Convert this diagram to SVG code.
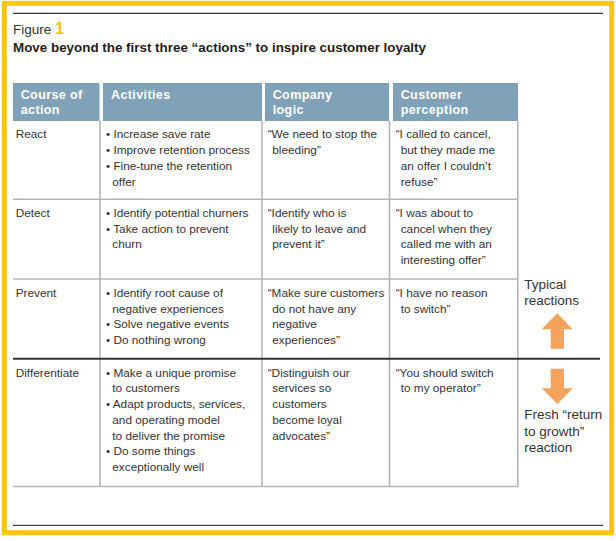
<svg xmlns="http://www.w3.org/2000/svg" width="616" height="541" viewBox="0 0 616 541">
<style>
.t{font-family:"Liberation Sans",Arial,sans-serif;font-size:11.8px;fill:#333;}
.h{font-family:"Liberation Sans",Arial,sans-serif;font-size:12.5px;font-weight:bold;fill:#fff;letter-spacing:0.4px;}
.s{font-family:"Liberation Sans",Arial,sans-serif;font-size:13.5px;fill:#333;}
.hd{fill:#7fa2b9;}
.g{stroke:#b5b5b5;stroke-width:1.6;fill:none;}
.d{stroke:#333;stroke-width:2;fill:none;}
.ar{fill:#f5a35c;}
</style>
<rect x="0" y="0" width="616" height="541" fill="#fff"/>
<rect x="4.3" y="3.3" width="607.4" height="529.4" fill="none" stroke="#fec40f" stroke-width="5"/>
<line x1="13" y1="13.3" x2="603" y2="13.3" stroke="#333" stroke-width="1.3"/>
<line x1="13" y1="525.3" x2="603" y2="525.3" stroke="#444" stroke-width="1.3"/>
<g id="title">
<text x="13" y="34.3" font-family="'Liberation Sans',Arial,sans-serif" font-size="13.5" fill="#333">Figure <tspan fill="#fdbf12" font-weight="bold" font-size="16">1</tspan></text>
<text x="13" y="51.7" font-family="'Liberation Sans',Arial,sans-serif" font-size="13" font-weight="bold" fill="#1e1e1e" textLength="413" lengthAdjust="spacingAndGlyphs">Move beyond the first three “actions” to inspire customer loyalty</text>
</g>
<g id="header">
<rect class="hd" x="13" y="83" width="86.5" height="38"/>
<rect class="hd" x="103" y="83" width="159" height="38"/>
<rect class="hd" x="265" y="83" width="124" height="38"/>
<rect class="hd" x="393" y="83" width="125" height="38"/>
<text class="h" x="20.7" y="99">Course of</text>
<text class="h" x="20.7" y="113.5">action</text>
<text class="h" x="111" y="99">Activities</text>
<text class="h" x="272.7" y="99">Company</text>
<text class="h" x="272.7" y="113.5">logic</text>
<text class="h" x="400.7" y="99">Customer</text>
<text class="h" x="400.7" y="113.5">perception</text>
</g>
<g id="connectors">
<line class="g" x1="100" y1="121" x2="100" y2="487"/>
<line class="g" x1="262" y1="121" x2="262" y2="487"/>
<line class="g" x1="389.5" y1="121" x2="389.5" y2="487"/>
<line class="g" x1="517.8" y1="121" x2="517.8" y2="487"/>
<line class="g" x1="13" y1="199.3" x2="518" y2="199.3"/>
<line class="g" x1="13" y1="279" x2="518" y2="279"/>
<line class="g" x1="13" y1="486.5" x2="518" y2="486.5"/>
<line class="d" x1="13" y1="358.7" x2="600" y2="358.7"/>
</g>
<g id="row-react">
<text class="t" x="15.7" y="138.3">React</text>
<text class="t" x="106" y="138.3">• Increase save rate</text>
<text class="t" x="106" y="154.1">• Improve retention process</text>
<text class="t" x="106" y="169.9">• Fine-tune the retention</text>
<text class="t" x="112.3" y="185.7">offer</text>
<text class="t" x="267.7" y="138.3">“We need to stop the</text>
<text class="t" x="272.3" y="154.1">bleeding”</text>
<text class="t" x="395.7" y="138.3">“I called to cancel,</text>
<text class="t" x="400.7" y="154.1">but they made me</text>
<text class="t" x="400.7" y="169.9">an offer I couldn’t</text>
<text class="t" x="400.7" y="185.7">refuse”</text>
</g>
<g id="row-detect">
<text class="t" x="15.7" y="216.7">Detect</text>
<text class="t" x="106" y="216.7">• Identify potential churners</text>
<text class="t" x="106" y="232.5">• Take action to prevent</text>
<text class="t" x="112.3" y="248.3">churn</text>
<text class="t" x="267.7" y="216.7">“Identify who is</text>
<text class="t" x="272.3" y="232.5">likely to leave and</text>
<text class="t" x="272.3" y="248.3">prevent it”</text>
<text class="t" x="395.7" y="216.7">“I was about to</text>
<text class="t" x="400.7" y="232.5">cancel when they</text>
<text class="t" x="400.7" y="248.3">called me with an</text>
<text class="t" x="400.7" y="264.1">interesting offer”</text>
</g>
<g id="row-prevent">
<text class="t" x="15.7" y="296.7">Prevent</text>
<text class="t" x="106" y="296.7">• Identify root cause of</text>
<text class="t" x="112.3" y="312.5">negative experiences</text>
<text class="t" x="106" y="328.3">• Solve negative events</text>
<text class="t" x="106" y="344.1">• Do nothing wrong</text>
<text class="t" x="267.7" y="296.7">“Make sure customers</text>
<text class="t" x="272.3" y="312.5">do not have any</text>
<text class="t" x="272.3" y="328.3">negative</text>
<text class="t" x="272.3" y="344.1">experiences”</text>
<text class="t" x="395.7" y="296.7">“I have no reason</text>
<text class="t" x="400.7" y="312.5">to switch”</text>
</g>
<g id="row-differentiate">
<text class="t" x="15.7" y="376.7">Differentiate</text>
<text class="t" x="106" y="376.7">• Make a unique promise</text>
<text class="t" x="112.3" y="392.4">to customers</text>
<text class="t" x="106" y="408.1">• Adapt products, services,</text>
<text class="t" x="112.3" y="423.8">and operating model</text>
<text class="t" x="112.3" y="439.5">to deliver the promise</text>
<text class="t" x="106" y="455.2">• Do some things</text>
<text class="t" x="112.3" y="470.9">exceptionally well</text>
<text class="t" x="267.7" y="376.7">“Distinguish our</text>
<text class="t" x="272.3" y="392.4">services so</text>
<text class="t" x="272.3" y="408.1">customers</text>
<text class="t" x="272.3" y="423.8">become loyal</text>
<text class="t" x="272.3" y="439.5">advocates”</text>
<text class="t" x="395.7" y="376.7">“You should switch</text>
<text class="t" x="400.7" y="392.4">to my operator”</text>
</g>
<g id="typical">
<text class="s" x="524.3" y="289.3">Typical</text>
<text class="s" x="524.3" y="305.3">reactions</text>
<polygon class="ar" points="557.3,313.3 572.7,329.3 564,329.3 564,348.7 550.7,348.7 550.7,329.3 541.7,329.3"/>
</g>
<g id="fresh">
<polygon class="ar" points="550.7,368.7 564,368.7 564,388.3 572.7,388.3 557.3,404 541.7,388.3 550.7,388.3"/>
<text class="s" x="524.3" y="419.3">Fresh “return</text>
<text class="s" x="524.3" y="435.5">to growth”</text>
<text class="s" x="524.3" y="451.7">reaction</text>
</g>
</svg>
